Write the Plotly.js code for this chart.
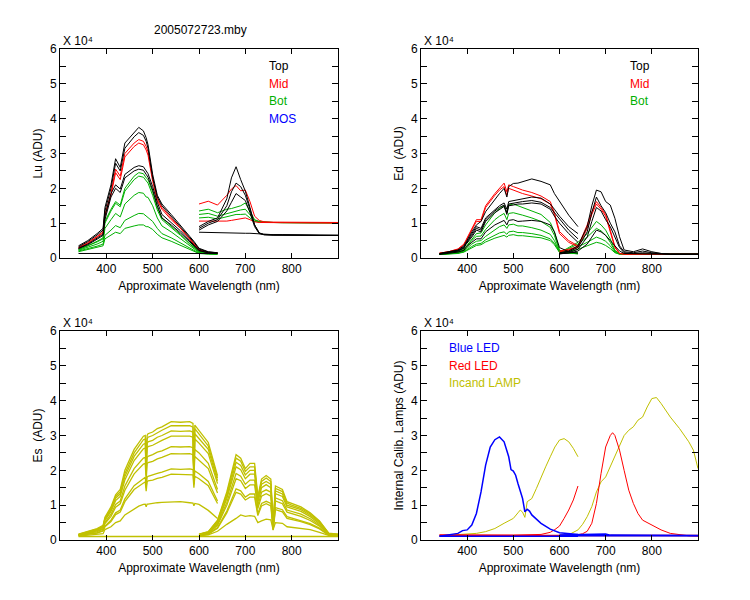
<!DOCTYPE html>
<html><head><meta charset="utf-8">
<script src="https://cdn.plot.ly/plotly-3.0.1.min.js"></script>
<style>html,body{margin:0;padding:0;background:#fff}#chart{width:750px;height:600px}</style>
</head><body><div id="chart"></div>
<script>
// ---------- wavelength grids ----------
const wlA = [340,360,380,393,397,410,420,430,440,460,470,480,486,490,500,510,520,540,560,580,589,600,620,640];
const wlB = [600,620,640,660,670,680,690,700,710,720,730,740,760,780,800,820,840,860,880,900];
const wlAes = [340,360,380,393,397,410,420,430,440,460,470,480,484,486,488,490,500,510,520,540,560,580,587,589,591,600,620,640];
const wlBes = [600,620,640,660,680,690,700,710,720,727,735,745,755,760,765,780,790,800,820,840,860,880,900];
const baseA = [340,640];
const baseB = [600,900];
const baseAll = [340,900];

// ---------- Lu (top-left) ----------
const luTop1 = [0.35,0.5,0.7,0.85,1.45,2.1,2.85,2.6,3.3,3.6,3.75,3.65,3.45,3.25,2.4,1.8,1.55,1.25,0.95,0.62,0.48,0.28,0.18,0.15];
const luTop2 = [0.32,0.47,0.66,0.8,1.35,2.0,2.72,2.5,3.15,3.48,3.6,3.52,3.35,3.15,2.3,1.75,1.5,1.2,0.9,0.58,0.45,0.26,0.17,0.15];
const luMid1 = [0.3,0.44,0.62,0.75,1.25,1.85,2.55,2.35,3.0,3.3,3.4,3.35,3.2,3.05,2.3,1.7,1.45,1.15,0.88,0.55,0.42,0.24,0.16,0.14];
const luMid2 = [0.29,0.42,0.6,0.72,1.2,1.8,2.45,2.25,2.9,3.2,3.3,3.25,3.1,2.95,2.2,1.65,1.4,1.1,0.85,0.53,0.4,0.23,0.16,0.14];
const luTop3 = [0.28,0.4,0.57,0.68,1.2,1.85,2.1,1.98,2.4,2.6,2.65,2.62,2.5,2.42,2.05,1.6,1.25,1.02,0.78,0.5,0.38,0.22,0.15,0.14];
const luTop4 = [0.27,0.38,0.54,0.65,1.1,1.75,2.0,1.88,2.3,2.5,2.55,2.52,2.4,2.32,1.95,1.5,1.15,0.95,0.72,0.46,0.35,0.21,0.15,0.14];
const luBot1 = [0.25,0.35,0.48,0.58,1.05,1.4,1.62,1.52,2.0,2.35,2.45,2.42,2.3,2.25,1.9,1.45,1.15,0.92,0.68,0.42,0.32,0.19,0.14,0.13];
const luBot2 = [0.24,0.34,0.46,0.55,1.0,1.35,1.57,1.47,1.92,2.25,2.35,2.32,2.2,2.15,1.8,1.38,1.1,0.88,0.65,0.4,0.3,0.18,0.14,0.13];
const luBot3 = [0.22,0.3,0.4,0.48,0.85,1.1,1.28,1.18,1.55,1.8,1.88,1.86,1.75,1.74,1.5,1.15,0.92,0.75,0.55,0.34,0.26,0.16,0.13,0.12];
const luBot4 = [0.2,0.26,0.34,0.4,0.65,0.8,0.93,0.87,1.08,1.22,1.28,1.27,1.2,1.18,1.05,0.85,0.7,0.58,0.43,0.28,0.22,0.14,0.12,0.11];
const luBot5 = [0.18,0.24,0.3,0.35,0.55,0.65,0.74,0.7,0.85,0.92,0.95,0.95,0.9,0.9,0.82,0.68,0.58,0.48,0.37,0.25,0.2,0.13,0.11,0.1];
const luDarkA = [0.13,0.13];
const luTopB1 = [0.9,1.05,1.15,1.7,2.3,2.62,2.25,1.92,1.45,0.95,0.72,0.67,0.66,0.66,0.66,0.66,0.65,0.65,0.65,0.65];
const luTopB2 = [0.85,1.0,1.1,1.5,1.9,2.15,2.05,1.8,1.4,0.95,0.72,0.67,0.66,0.66,0.66,0.65,0.65,0.65,0.65,0.65];
const luTopB3 = [0.8,0.95,1.05,1.35,1.6,1.85,1.75,1.65,1.3,0.9,0.7,0.67,0.66,0.66,0.65,0.65,0.65,0.65,0.65,0.65];
const luDarkB = [0.74,0.73,0.73,0.72,0.72,0.72,0.71,0.71,0.71,0.7,0.69,0.68,0.67,0.67,0.66,0.66,0.66,0.65,0.65,0.65];
const luMidB1 = [1.55,1.63,1.52,1.8,1.98,2.08,1.93,1.95,1.62,1.2,1.08,1.04,1.03,1.03,1.02,1.02,1.01,1.01,1.02,1.02];
const luMidB2 = [1.06,1.06,1.05,1.06,1.08,1.1,1.12,1.15,1.1,1.04,1.02,1.02,1.01,1.01,1.01,1.0,1.0,1.0,1.0,1.0];
const luBotB1 = [1.35,1.4,1.3,1.4,1.42,1.45,1.5,1.58,1.35,1.1,1.05,1.03,1.02,1.02,1.01,1.01,1.01,1.01,1.01,1.01];
const luBotB2 = [1.25,1.28,1.2,1.28,1.32,1.35,1.38,1.4,1.25,1.08,1.04,1.03,1.02,1.02,1.01,1.01,1.01,1.01,1.01,1.01];
const luBotB3 = [1.15,1.17,1.12,1.18,1.22,1.25,1.25,1.26,1.15,1.05,1.03,1.02,1.02,1.01,1.01,1.01,1.01,1.01,1.01,1.01];

// ---------- Ed (top-right) ----------
const edTop1 = [0.13,0.17,0.23,0.35,0.45,0.75,0.95,1.05,1.33,1.7,1.85,2.0,1.75,2.05,2.14,2.15,2.19,2.27,2.2,2.1,1.85,1.62,1.23,0.9];
const edTop2 = [0.12,0.16,0.22,0.32,0.42,0.7,0.9,0.85,1.15,1.4,1.5,1.58,1.4,1.62,1.65,1.68,1.7,1.75,1.72,1.55,1.4,1.2,0.9,0.7];
const edTop3 = [0.12,0.15,0.2,0.3,0.4,0.65,0.85,0.8,1.1,1.35,1.45,1.52,1.3,1.55,1.58,1.6,1.62,1.65,1.6,1.45,1.3,1.1,0.8,0.55];
const edTop4 = [0.12,0.15,0.2,0.28,0.38,0.6,0.8,0.75,1.05,1.3,1.4,1.48,1.25,1.5,1.52,1.55,1.55,1.58,1.55,1.4,1.2,1.0,0.7,0.45];
const edTop5 = [0.1,0.13,0.17,0.22,0.3,0.45,0.55,0.55,0.75,0.95,1.02,1.08,0.95,1.08,1.1,1.05,1.06,1.08,1.05,0.95,0.75,0.3,0.18,0.14];
const edMid1 = [0.14,0.18,0.26,0.4,0.5,0.85,1.1,1.1,1.5,1.85,2.0,2.15,1.9,2.1,2.05,2.0,1.95,1.88,1.78,1.62,1.3,0.76,0.5,0.35];
const edMid2 = [0.14,0.18,0.25,0.38,0.48,0.8,1.05,1.05,1.45,1.8,1.95,2.05,1.8,2.0,1.95,1.9,1.85,1.78,1.7,1.55,1.25,0.7,0.45,0.32];
const edBot1 = [0.11,0.14,0.18,0.25,0.32,0.55,0.7,0.72,0.95,1.3,1.42,1.5,1.3,1.52,1.55,1.5,1.45,1.35,1.25,1.02,0.75,0.22,0.17,0.15];
const edBot2 = [0.1,0.13,0.17,0.23,0.3,0.5,0.62,0.63,0.82,1.1,1.2,1.28,1.1,1.28,1.3,1.27,1.23,1.15,1.05,0.88,0.65,0.2,0.16,0.14];
const edBot3 = [0.1,0.12,0.15,0.2,0.25,0.4,0.48,0.5,0.62,0.82,0.9,0.95,0.85,0.95,0.97,0.92,0.92,0.87,0.8,0.68,0.5,0.18,0.15,0.13];
const edBot4 = [0.1,0.12,0.14,0.18,0.22,0.33,0.4,0.42,0.52,0.65,0.72,0.75,0.68,0.75,0.77,0.73,0.73,0.7,0.65,0.55,0.42,0.17,0.14,0.12];
const edBot5 = [0.1,0.11,0.13,0.17,0.2,0.3,0.36,0.38,0.46,0.57,0.62,0.65,0.6,0.65,0.67,0.64,0.64,0.62,0.58,0.5,0.38,0.16,0.13,0.12];
const edTopB1 = [0.15,0.2,0.35,0.9,1.5,1.95,1.9,1.62,1.52,1.14,0.61,0.23,0.18,0.26,0.18,0.13,0.11,0.11,0.11,0.11];
const edTopB2 = [0.13,0.18,0.3,0.75,1.3,1.75,1.5,1.3,1.0,0.75,0.35,0.18,0.15,0.2,0.15,0.12,0.11,0.11,0.11,0.11];
const edTopB3 = [0.12,0.15,0.25,0.6,1.05,1.45,1.35,1.1,0.9,0.6,0.3,0.15,0.13,0.15,0.13,0.11,0.11,0.11,0.11,0.11];
const edTopB4 = [0.12,0.14,0.2,0.4,0.6,0.8,0.75,0.65,0.5,0.35,0.2,0.13,0.12,0.13,0.12,0.11,0.11,0.11,0.11,0.11];
const edMidB1 = [0.2,0.25,0.33,0.95,1.33,1.62,1.45,1.25,0.8,0.33,0.13,0.11,0.11,0.11,0.11,0.11,0.11,0.11,0.11,0.11];
const edMidB2 = [0.18,0.22,0.3,0.85,1.25,1.55,1.4,1.2,0.75,0.3,0.13,0.11,0.11,0.11,0.11,0.11,0.11,0.11,0.11,0.11];
const edBotB1 = [0.15,0.3,0.45,0.7,0.88,1.05,0.95,0.8,0.55,0.22,0.12,0.11,0.11,0.11,0.11,0.11,0.11,0.11,0.11,0.11];
const edBotB2 = [0.14,0.27,0.4,0.6,0.72,0.85,0.78,0.65,0.45,0.2,0.12,0.11,0.11,0.11,0.11,0.11,0.11,0.11,0.11,0.11];
const edBotB3 = [0.13,0.22,0.32,0.45,0.52,0.6,0.55,0.48,0.35,0.17,0.11,0.11,0.11,0.11,0.11,0.11,0.11,0.11,0.11,0.11];
const edBotB4 = [0.12,0.18,0.25,0.35,0.4,0.45,0.42,0.36,0.27,0.15,0.11,0.11,0.11,0.11,0.11,0.11,0.11,0.11,0.11,0.11];

// ---------- Es (bottom-left) ----------
const esA1 = [0.17,0.24,0.33,0.42,0.65,0.95,1.3,1.45,2.0,2.6,2.8,2.98,3.0,2.3,3.0,3.05,3.1,3.2,3.25,3.4,3.38,3.4,3.35,1.7,3.3,3.15,2.8,1.85];
const esA2 = [0.16,0.23,0.31,0.4,0.62,0.9,1.25,1.38,1.9,2.5,2.7,2.88,2.9,2.2,2.9,2.95,3.0,3.08,3.15,3.28,3.27,3.28,3.24,1.7,3.2,3.05,2.7,1.78];
const esA3 = [0.15,0.22,0.3,0.38,0.6,0.86,1.2,1.32,1.82,2.4,2.58,2.75,2.77,2.1,2.77,2.82,2.86,2.95,3.0,3.13,3.12,3.13,3.1,1.65,3.05,2.9,2.6,1.7];
const esA4 = [0.15,0.21,0.28,0.36,0.56,0.82,1.13,1.25,1.72,2.28,2.45,2.62,2.64,2.0,2.64,2.68,2.72,2.8,2.86,2.98,2.97,2.98,2.95,1.6,2.9,2.78,2.48,1.62];
const esA5 = [0.14,0.19,0.26,0.33,0.5,0.74,1.02,1.12,1.55,2.05,2.2,2.35,2.37,1.85,2.37,2.4,2.45,2.52,2.56,2.68,2.67,2.68,2.65,1.9,2.6,2.5,2.2,1.45];
const esA6 = [0.14,0.18,0.24,0.31,0.47,0.68,0.94,1.04,1.43,1.9,2.03,2.18,2.2,1.7,2.2,2.22,2.26,2.33,2.37,2.48,2.47,2.48,2.45,1.8,2.4,2.3,2.05,1.35];
const esA7 = [0.13,0.16,0.21,0.27,0.4,0.57,0.78,0.86,1.18,1.56,1.67,1.78,1.8,1.5,1.8,1.83,1.86,1.91,1.95,2.04,2.03,2.04,2.02,1.6,1.98,1.9,1.68,1.12];
const esA8 = [0.13,0.16,0.2,0.26,0.38,0.53,0.73,0.8,1.1,1.45,1.55,1.65,1.67,1.4,1.67,1.7,1.72,1.77,1.8,1.89,1.88,1.89,1.87,1.5,1.83,1.76,1.56,1.05];
const esA9 = [0.11,0.13,0.15,0.18,0.3,0.38,0.5,0.55,0.72,0.9,0.97,1.02,1.03,0.95,1.03,1.03,1.06,1.07,1.08,1.1,1.1,1.07,1.06,0.98,1.05,1.02,0.85,0.62];
const esB1 = [0.17,0.24,0.57,1.38,2.45,2.35,2.05,2.2,2.2,1.25,1.75,1.85,1.75,0.45,1.55,1.45,1.1,1.05,0.95,0.78,0.55,0.2,0.17];
const esB2 = [0.16,0.23,0.55,1.32,2.35,2.26,1.97,2.1,2.1,1.2,1.68,1.78,1.68,0.44,1.48,1.39,1.06,1.0,0.91,0.75,0.53,0.19,0.16];
const esB3 = [0.16,0.22,0.52,1.25,2.23,2.14,1.87,2.0,2.0,1.15,1.6,1.68,1.6,0.42,1.41,1.32,1.0,0.96,0.87,0.71,0.5,0.18,0.16];
const esB4 = [0.15,0.21,0.49,1.19,2.1,2.02,1.76,1.89,1.89,1.08,1.5,1.59,1.5,0.4,1.33,1.25,0.95,0.9,0.82,0.67,0.47,0.17,0.15];
const esB5 = [0.15,0.2,0.45,1.08,1.91,1.83,1.6,1.72,1.72,0.98,1.37,1.44,1.37,0.37,1.21,1.13,0.86,0.82,0.74,0.61,0.43,0.16,0.14];
const esB6 = [0.14,0.19,0.42,1.0,1.76,1.7,1.48,1.58,1.58,0.9,1.26,1.33,1.26,0.35,1.12,1.04,0.8,0.76,0.68,0.56,0.4,0.15,0.14];
const esB7 = [0.14,0.17,0.36,0.83,1.47,1.41,1.23,1.32,1.32,0.76,1.05,1.11,1.05,0.3,0.93,0.87,0.67,0.63,0.57,0.47,0.34,0.14,0.13];
const esB8 = [0.13,0.17,0.34,0.78,1.37,1.32,1.15,1.23,1.23,0.7,0.98,1.04,0.98,0.28,0.87,0.81,0.62,0.59,0.53,0.44,0.32,0.14,0.13];
const esB9 = [0.12,0.15,0.25,0.45,0.62,0.72,0.68,0.7,0.68,0.5,0.55,0.6,0.58,0.3,0.5,0.48,0.38,0.36,0.33,0.3,0.22,0.13,0.12];
const esDark = [0.1,0.1];

// ---------- Internal calibration lamps (bottom-right) ----------
const blueWlA = [340,380,390,400,410,420,430,440,450,460,470,480,490,495,500,505,510,520,525,530,535,540,560,580,600,620,640];
const blueA = [0.11,0.19,0.27,0.29,0.43,0.76,1.38,2.15,2.67,2.88,2.96,2.82,2.39,2.02,1.98,1.86,1.62,1.19,0.81,0.88,0.83,0.72,0.48,0.31,0.21,0.19,0.16];
const blueDarkA = [0.11,0.11];
const blueWlB = [600,640,650,700,710,900];
const blueB = [0.14,0.15,0.17,0.17,0.14,0.13];
const blueDarkB = [0.12,0.12];
const redWlA = [340,400,500,560,580,590,600,610,620,630,640];
const redA = [0.15,0.14,0.14,0.16,0.22,0.3,0.4,0.62,0.86,1.15,1.55];
const redWlB = [600,640,650,660,670,680,690,700,710,715,720,730,740,750,760,770,780,800,820,840,860,880,900];
const redB = [0.13,0.15,0.18,0.25,0.48,1.05,1.91,2.67,3.0,3.08,3.0,2.58,2.0,1.43,1.05,0.76,0.57,0.43,0.29,0.19,0.15,0.12,0.11];
const redDark = [0.13,0.13];
const lampWlA = [340,400,420,440,460,480,490,500,510,515,520,525,530,540,550,560,570,580,590,600,610,620,630,640];
const lampA = [0.12,0.16,0.19,0.24,0.33,0.48,0.55,0.62,0.78,0.86,0.8,0.65,1.1,1.19,1.48,1.81,2.1,2.39,2.67,2.87,2.91,2.82,2.63,2.39];
const lampWlB = [600,620,640,650,660,670,680,690,700,710,720,730,740,750,760,770,780,790,800,810,820,840,860,880,890,900];
const lampB = [0.13,0.15,0.29,0.45,0.67,0.96,1.38,1.67,1.81,2.1,2.39,2.72,3.0,3.15,3.25,3.44,3.53,3.82,4.06,4.09,3.92,3.53,3.2,2.82,2.58,2.05];

// ---------- styling ----------
const BLACK = '#000000', RED = '#ff0000', GREEN = '#00b000', BLUE = '#0000ff', OLIVE = '#c0c000';
const FONT = 'Liberation Sans, Arial, sans-serif';

const traces = [];
function add(x, y, color, n, w) {
  traces.push({x: x, y: y, type: 'scatter', mode: 'lines', xaxis: 'x' + (n === 1 ? '' : n), yaxis: 'y' + (n === 1 ? '' : n),
    line: {color: color, width: w || 1}, showlegend: false, hoverinfo: 'skip'});
}

// Lu
[luBot1, luBot2, luBot3, luBot4, luBot5].forEach(v => add(wlA, v, GREEN, 1));
[luBotB1, luBotB2, luBotB3].forEach(v => add(wlB, v, GREEN, 1));
[luMid1, luMid2].forEach(v => add(wlA, v, RED, 1.5));
[luMidB1, luMidB2].forEach(v => add(wlB, v, RED, 1.8));
[luTop1, luTop2, luTop3, luTop4].forEach(v => add(wlA, v, BLACK, 1.5));
add(baseA, luDarkA, BLACK, 1, 1);
[luTopB1, luTopB2, luTopB3].forEach(v => add(wlB, v, BLACK, 1.2));
add(wlB, luDarkB, BLACK, 1, 1);

// Ed
[edBot1, edBot2, edBot3, edBot4, edBot5].forEach(v => add(wlA, v, GREEN, 2));
[edBotB1, edBotB2, edBotB3, edBotB4].forEach(v => add(wlB, v, GREEN, 2));
[edMid1, edMid2].forEach(v => add(wlA, v, RED, 2));
[edMidB1, edMidB2].forEach(v => add(wlB, v, RED, 2));
[edTop1, edTop2, edTop3, edTop4, edTop5].forEach(v => add(wlA, v, BLACK, 2));
[edTopB1, edTopB2, edTopB3, edTopB4].forEach(v => add(wlB, v, BLACK, 2));

// Es
add(baseAll, esDark, OLIVE, 3, 1.5);
[esA1, esA2, esA3, esA4, esA5, esA6, esA7, esA8, esA9].forEach(v => add(wlAes, v, OLIVE, 3, 1.3));
[esB1, esB2, esB3, esB4, esB5, esB6, esB7, esB8, esB9].forEach(v => add(wlBes, v, OLIVE, 3, 1.3));

// Calib lamps
add(lampWlA, lampA, OLIVE, 4);
add(lampWlB, lampB, OLIVE, 4);
add(baseA, redDark, RED, 4, 1.5);
add(baseB, redDark, RED, 4, 1.5);
add(redWlA, redA, RED, 4);
add(redWlB, redB, RED, 4);
add(baseA, blueDarkA, BLUE, 4, 1.5);
add(baseB, blueDarkB, BLUE, 4, 1.5);
add(blueWlA, blueA, BLUE, 4, 1.5);
add(blueWlB, blueB, BLUE, 4, 1.5);

const W = 750, H = 600;
function xdom(l, r) { return [l / W, r / W]; }
function ydom(t, b) { return [1 - b / H, 1 - t / H]; }

function xax(dom, anchor) {
  return {domain: dom, anchor: anchor, range: [300, 900], tickvals: [400, 500, 600, 700, 800],
    ticks: 'inside', ticklen: 5, tickcolor: '#000', mirror: 'ticks', showline: true, linecolor: '#000', linewidth: 1,
    showgrid: false, zeroline: false, tickfont: {family: FONT, size: 12, color: '#000'}, fixedrange: true,
    title: {text: 'Approximate Wavelength (nm)', font: {family: FONT, size: 12, color: '#000'}, standoff: 6}};
}
function yax(dom, anchor, title) {
  return {domain: dom, anchor: anchor, range: [0, 6], tickvals: [0, 1, 2, 3, 4, 5, 6],
    ticks: 'inside', ticklen: 6, tickcolor: '#000', mirror: 'ticks', showline: true, linecolor: '#000', linewidth: 1,
    minor: {dtick: 0.5, ticks: 'inside', ticklen: 6, tickcolor: '#000', showgrid: false},
    showgrid: false, zeroline: false, tickfont: {family: FONT, size: 12, color: '#000'}, fixedrange: true,
    title: {text: title, font: {family: FONT, size: 12, color: '#000'}, standoff: 4}};
}

const XL = [60, 338], XR = [421, 698], YT = [49, 258], YB = [331, 540];

function ann(text, px, py, color, opts) {
  return Object.assign({text: text, x: px / W, y: 1 - py / H, xref: 'paper', yref: 'paper', showarrow: false,
    font: {family: FONT, size: 12, color: color || '#000'}, xanchor: 'left', yanchor: 'middle'}, opts || {});
}

const SCALE = 'X 10\u2074';
const annotations = [
  ann('2005072723.mby', 200, 30, '#000', {xanchor: 'center'}),
  ann(SCALE, 61, 41),
  ann(SCALE, 422, 41),
  ann(SCALE, 61, 323),
  ann(SCALE, 422, 323),
  ann('Top', 267, 66, BLACK),
  ann('Mid', 267, 84, RED),
  ann('Bot', 267, 101, GREEN),
  ann('MOS', 267, 119, BLUE),
  ann('Top', 628, 66, BLACK),
  ann('Mid', 628, 84, RED),
  ann('Bot', 628, 101, GREEN),
  ann('Blue LED', 447, 348, BLUE),
  ann('Red LED', 447, 366, RED),
  ann('Incand LAMP', 447, 383, OLIVE)
];

const layout = {
  width: W, height: H, margin: {l: 0, r: 0, t: 0, b: 0},
  paper_bgcolor: '#fff', plot_bgcolor: '#fff', showlegend: false,
  font: {family: FONT, size: 12, color: '#000'},
  xaxis: xax(xdom(XL[0], XL[1]), 'y'),
  yaxis: yax(ydom(YT[0], YT[1]), 'x', 'Lu (ADU)'),
  xaxis2: xax(xdom(XR[0], XR[1]), 'y2'),
  yaxis2: yax(ydom(YT[0], YT[1]), 'x2', 'Ed  (ADU)'),
  xaxis3: xax(xdom(XL[0], XL[1]), 'y3'),
  yaxis3: yax(ydom(YB[0], YB[1]), 'x3', 'Es  (ADU)'),
  xaxis4: xax(xdom(XR[0], XR[1]), 'y4'),
  yaxis4: yax(ydom(YB[0], YB[1]), 'x4', 'Internal Calib. Lamps (ADU)'),
  annotations: annotations
};

Plotly.newPlot('chart', traces, layout, {staticPlot: true, displayModeBar: false});
</script></body></html>
